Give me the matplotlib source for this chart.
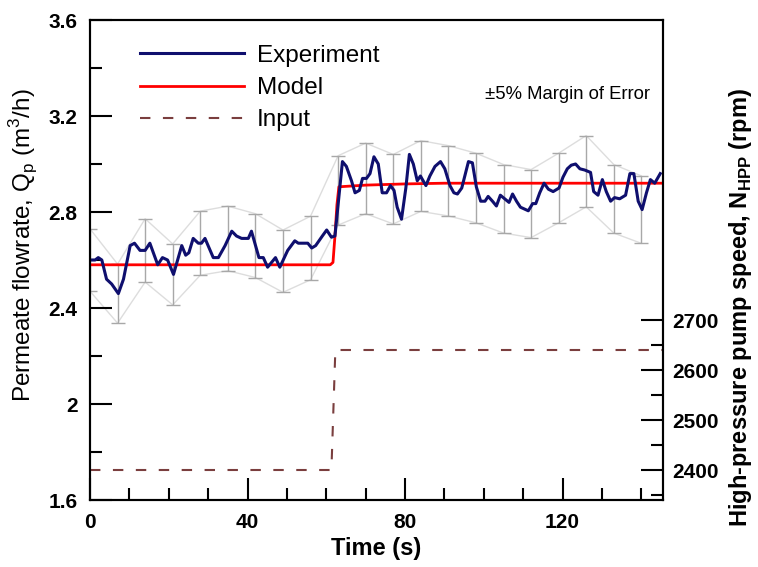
import numpy as np
import matplotlib.pyplot as plt

plt.rcParams['font.family'] = ['Liberation Sans', 'DejaVu Sans']

# Experimental permeate flowrate (m3/h)
t_exp = [0, 1.3, 2.1, 3.0, 4.2, 5.5, 7.2, 8.5, 10.2, 11.3, 12.7, 14.0, 15.2, 17.2,
         18.4, 19.7, 21.2, 23.3, 24.3, 25.1, 26.2, 27.5, 28.3, 29.2, 31.3, 32.6,
         34.3, 36.0, 37.2, 38.5, 40.2, 41.0, 42.9, 44.0, 45.1, 47.1, 48.2, 50.2,
         52.0, 52.9, 54.1, 55.3, 56.3, 57.3, 59.0, 60.1, 61.3, 62.2, 64.1, 65.1,
         66.4, 67.3, 68.4, 69.2, 70.2, 71.1, 72.1, 73.2, 74.2, 75.3, 76.3, 77.2,
         78.0, 79.1, 80.2, 81.1, 82.1, 83.1, 83.9, 85.3, 86.3, 87.6, 89.0, 90.1,
         91.4, 92.4, 93.3, 94.4, 96.1, 97.1, 98.1, 99.2, 100.3, 101.1, 102.2,
         103.2, 104.2, 105.3, 106.4, 107.3, 108.3, 109.3, 111.3, 112.4, 113.2,
         114.2, 115.3, 116.4, 117.6, 119.1, 120.1, 121.2, 122.2, 123.3, 124.4,
         125.6, 127.1, 127.9, 129.0, 130.1, 131.1, 132.2, 133.2, 134.5, 136.0,
         137.1, 138.1, 139.2, 140.2, 141.3, 142.3, 143.4, 144.8]
q_exp = [2.60, 2.60, 2.61, 2.60, 2.52, 2.50, 2.46, 2.52, 2.66, 2.67, 2.64, 2.64,
         2.67, 2.58, 2.61, 2.60, 2.54, 2.66, 2.62, 2.63, 2.69, 2.67, 2.67, 2.69,
         2.61, 2.61, 2.66, 2.72, 2.70, 2.69, 2.69, 2.72, 2.61, 2.61, 2.57, 2.61,
         2.57, 2.64, 2.68, 2.67, 2.67, 2.67, 2.65, 2.66, 2.70, 2.725, 2.695, 2.70,
         3.01, 2.99, 2.93, 2.88, 2.89, 2.94, 2.94, 2.96, 3.03, 3.00, 2.88, 2.88,
         2.91, 2.89, 2.82, 2.77, 2.90, 3.04, 3.00, 2.93, 2.95, 2.91, 2.95, 2.99,
         3.01, 2.98, 2.91, 2.88, 2.875, 2.90, 3.01, 3.005, 2.905, 2.845, 2.845,
         2.865, 2.845, 2.825, 2.87, 2.855, 2.84, 2.875, 2.845, 2.82, 2.805, 2.835,
         2.835, 2.88, 2.92, 2.895, 2.885, 2.90, 2.945, 2.98, 2.995, 3.00, 2.98,
         2.975, 2.965, 2.885, 2.87, 2.935, 2.885, 2.845, 2.86, 2.855, 2.87, 2.96,
         2.96, 2.845, 2.81, 2.88, 2.935, 2.92, 2.96]

# Model prediction
t_model = [0, 61.0, 61.7, 62.2, 62.7, 63.2, 70, 80, 90, 145.5]
q_model = [2.58, 2.58, 2.59, 2.70, 2.83, 2.905, 2.912, 2.917, 2.92, 2.92]

# Input: high-pressure pump speed (rpm)
t_input = [0, 61.3, 62.3, 145.5]
n_input = [2400, 2400, 2640, 2640]

# +-5% margin of error bars
t_bar = [0, 7, 14, 21, 28, 35, 42, 49, 56, 63, 70, 77, 84, 91, 98, 105, 112,
         119, 126, 133, 140]
q_bar = [2.60, 2.46, 2.64, 2.54, 2.67, 2.69, 2.66, 2.595, 2.65, 2.89, 2.94,
         2.895, 2.95, 2.93, 2.90, 2.855, 2.835, 2.90, 2.97, 2.855, 2.81]

fig = plt.figure(figsize=(7.58, 5.67), dpi=100)
ax = fig.add_axes([90 / 758, 1 - 500 / 567, 573 / 758, 480 / 567])
ax2 = ax.twinx()

q_bar = np.array(q_bar)
ax.plot(t_bar, q_bar * 1.05, color='#dddddd', lw=1, zorder=1)
ax.plot(t_bar, q_bar * 0.95, color='#dddddd', lw=1, zorder=1)
ax.errorbar(t_bar, q_bar, yerr=0.05 * q_bar, fmt='none', ecolor='#a8a8a8',
            elinewidth=1, capsize=5, capthick=1, zorder=2)

l1, = ax.plot(t_exp, q_exp, color='#0f0f6e', lw=2.2, zorder=4, label='Experiment')
l2, = ax.plot(t_model, q_model, color='#ff0000', lw=2, zorder=3, label='Model')
l3, = ax2.plot(t_input, n_input, color='#7a3e3e', lw=1.5, dashes=(5, 6),
               label='Input')

ax.set_xlim(0, 145.5)
ax.set_ylim(1.6, 3.6)
ax2.set_ylim(2340, 3300)

ax.set_xticks([0, 40, 80, 120])
ax.set_xticks(np.arange(0, 146, 10), minor=True)
ax.set_yticks([1.6, 2.0, 2.4, 2.8, 3.2, 3.6])
ax.set_yticklabels(['1.6', '2', '2.4', '2.8', '3.2', '3.6'])
ax.set_yticks(np.arange(1.6, 3.61, 0.2), minor=True)
ax2.set_yticks([2400, 2500, 2600, 2700])
ax2.set_yticks([2350, 2450, 2550, 2650], minor=True)

for a in (ax, ax2):
    for s in a.spines.values():
        s.set_linewidth(1.5)
ax.tick_params(which='major', direction='in', length=16, width=1.5, pad=9,
               labelsize=15, top=False, right=False)
ax.tick_params(which='minor', direction='in', length=8.5, width=1.5,
               top=False, right=False)
ax2.tick_params(which='major', direction='in', length=16, width=1.5, pad=7,
                labelsize=15)
ax2.tick_params(which='minor', direction='in', length=8.5, width=1.5)
for lab in ax.get_xticklabels() + ax.get_yticklabels() + ax2.get_yticklabels():
    lab.set_fontweight('bold')

ax.set_xlabel('Time (s)', fontsize=17, fontweight='bold', labelpad=4)
ax.set_ylabel('Permeate flowrate, Q$_\\mathregular{p}$ (m$^\\mathregular{3}$/h)',
              fontsize=17.5)
ax.yaxis.set_label_coords(-0.088, 0.53)
ax2.set_ylabel('High-pressure pump speed, N$_\\mathregular{HPP}$ (rpm)',
               fontsize=17, fontweight='bold')
ax2.yaxis.set_label_coords(1.112, 0.40)

ax.text(0.977, 0.845, '±5% Margin of Error', transform=ax.transAxes,
        ha='right', va='center', fontsize=13.3)

ax.legend([l1, l2, l3], ['Experiment', 'Model', 'Input'], loc='upper left',
          bbox_to_anchor=(0.087, 0.948), frameon=False, fontsize=17.5,
          handlelength=4.3, handletextpad=0.53, labelspacing=0.42,
          borderpad=0, borderaxespad=0)

fig.savefig('out.png', dpi=100)
